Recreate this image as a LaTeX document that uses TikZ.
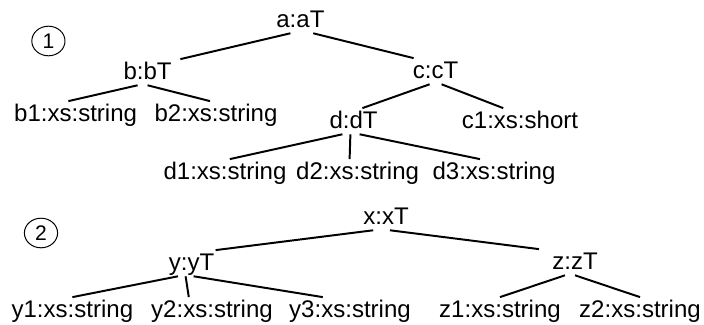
\documentclass[tikz,border=0pt]{standalone}
\usepackage{fontspec}
\setmainfont{Liberation Sans}
\usetikzlibrary{shapes.geometric}

\begin{document}
\begin{tikzpicture}[
    lbl/.style={anchor=base, inner xsep=0pt, inner ysep=0.05cm,
                text height=0.44cm, text depth=0.1cm,
                font=\fontsize{17.1pt}{20pt}\selectfont},
    num/.style={ellipse, draw, line width=0.7pt, inner sep=0pt,
                minimum width=0.83cm, minimum height=0.74cm,
                font=\fontsize{15pt}{18pt}\selectfont},
    edge/.style={line width=1.4pt}
  ]
  \useasboundingbox (0,0) rectangle (17.6,8.1);

  % first tree
  \node[num] (n1) at (1.21,7.075) {1};
  \node[lbl] (a)  at (7.51,7.425) {a:aT};
  \node[lbl] (b)  at (3.69,6.125) {b:bT};
  \node[lbl] (c)  at (10.89,6.15) {c:cT};
  \node[lbl] (b1) at (1.89,5.075) {b1:xs:string};
  \node[lbl] (b2) at (5.40,5.075) {b2:xs:string};
  \node[lbl] (d)  at (8.84,4.9)   {d:dT};
  \node[lbl] (c1) at (13.0,4.9)   {c1:xs:short};
  \node[lbl] (d1) at (5.625,3.625) {d1:xs:string};
  \node[lbl] (d2) at (8.94,3.625)  {d2:xs:string};
  \node[lbl] (d3) at (12.35,3.625) {d3:xs:string};

  % second tree
  \node[num] (n2) at (1.025,2.275) {2};
  \node[lbl] (x)  at (9.65,2.5)   {x:xT};
  \node[lbl] (y)  at (4.79,1.35)  {y:yT};
  \node[lbl] (z)  at (14.375,1.375) {z:zT};
  \node[lbl] (y1) at (1.81,0.175) {y1:xs:string};
  \node[lbl] (y2) at (5.30,0.175) {y2:xs:string};
  \node[lbl] (y3) at (8.75,0.175) {y3:xs:string};
  \node[lbl] (z1) at (12.5,0.175) {z1:xs:string};
  \node[lbl] (z2) at (16.0,0.175) {z2:xs:string};

  % parent/shift/child/shift
  \foreach \p/\ps/\c/\cs in {a/-0.25/b/0.82, a/0.32/c/-0.55,
      b/-0.25/b1/-0.18, b/0/b2/-0.15, c/-0.15/d/0.22, c/0.15/c1/-0.42,
      d/-0.28/d1/0.12, d/-0.08/d2/-0.2, d/0.15/d3/-0.35,
      x/-0.32/y/0.6, x/0.1/z/-0.9,
      y/-0.34/y1/0, y/-0.15/y2/-0.58, y/0.05/y3/-0.68,
      z/-0.25/z1/0, z/0/z2/0}{
    \draw[edge] ([xshift=\ps cm]\p.south) -- ([xshift=\cs cm]\c.north);
  }
\end{tikzpicture}
\end{document}
